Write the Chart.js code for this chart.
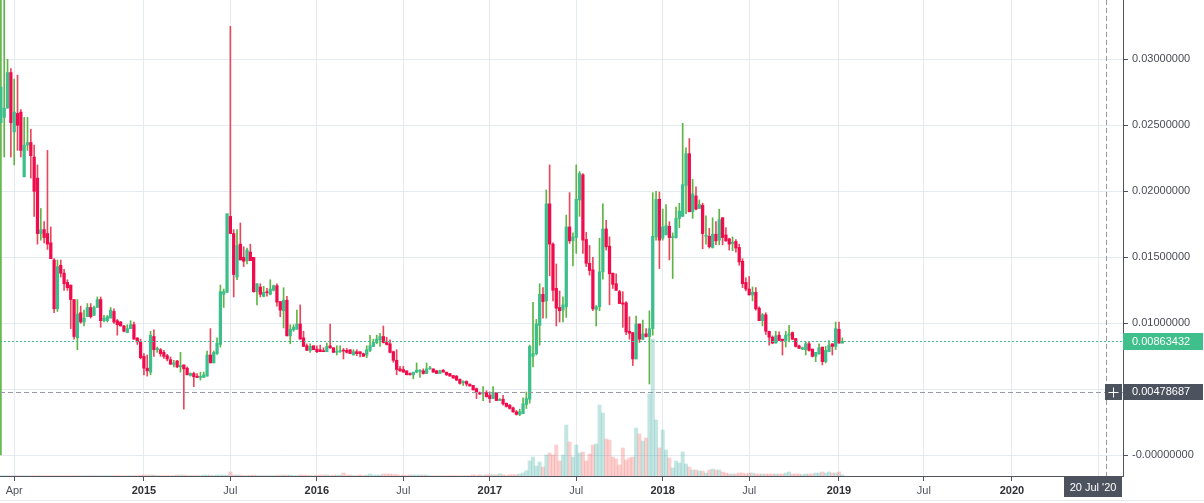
<!DOCTYPE html>
<html>
<head>
<meta charset="utf-8">
<title>Weekly candles</title>
<script src="https://cdn.jsdelivr.net/npm/chart.js@4.4.0/dist/chart.umd.min.js"></script>
<style>
    html, body { margin: 0; padding: 0; background: #ffffff; }
    #wrap { width: 1204px; height: 503px; position: relative; }
</style>
</head>
<body>
<div id="wrap"><canvas id="chart" width="1204" height="503"></canvas></div>
<script>
// Weekly candles, index 0 = first week of March 2014, last = first week of 2019
const opens = [
    0.0252, 0.0256, 0.0263, 0.029, 0.0245, 0.0259, 0.026, 0.0211, 0.0235, 0.0237,
    0.0226, 0.021, 0.0168, 0.0171, 0.0168, 0.0161, 0.0148, 0.0111, 0.0144, 0.0138,
    0.0131, 0.0129, 0.0118, 0.0089, 0.0108, 0.0101, 0.0105, 0.0112, 0.0106, 0.0112,
    0.0118, 0.0102, 0.0102, 0.0104, 0.0109, 0.0102, 0.0101, 0.0098, 0.0093, 0.0096,
    0.0099, 0.0089, 0.0086, 0.0075, 0.0066, 0.0063, 0.009, 0.008, 0.008, 0.0078,
    0.00755, 0.00725, 0.0069, 0.00715, 0.0067, 0.00685, 0.0066, 0.00605, 0.0062, 0.006,
    0.0059, 0.0059, 0.006, 0.0076, 0.007, 0.0077, 0.0084, 0.0122, 0.01235, 0.0181,
    0.0168, 0.0135, 0.016, 0.015, 0.01475, 0.0154, 0.015, 0.0124, 0.01275, 0.01205,
    0.01236, 0.0122, 0.0125, 0.01285, 0.01165, 0.01095, 0.01175, 0.00905, 0.0095, 0.00955,
    0.00995, 0.0089, 0.0083, 0.00795, 0.0083, 0.00805, 0.008, 0.0079, 0.00785, 0.0083,
    0.00815, 0.0078, 0.00785, 0.00795, 0.00795, 0.008, 0.0076, 0.00785, 0.00785, 0.0077,
    0.0076, 0.00795, 0.00825, 0.00855, 0.00875, 0.009, 0.00855, 0.00845, 0.00785, 0.0072,
    0.00655, 0.0065, 0.0064, 0.0062, 0.0061, 0.0063, 0.00635, 0.0064, 0.0062, 0.00655,
    0.00655, 0.0064, 0.0062, 0.00645, 0.0063, 0.0062, 0.00605, 0.006, 0.00575, 0.0055,
    0.0056, 0.0054, 0.0053, 0.00505, 0.00475, 0.0047, 0.00475, 0.00455, 0.0043, 0.00475,
    0.00415, 0.00425, 0.00395, 0.0038, 0.0036, 0.0033, 0.0031, 0.00315, 0.00385, 0.00425,
    0.0075, 0.0077, 0.00985, 0.0122, 0.0117, 0.01905, 0.016, 0.01265, 0.0112, 0.011,
    0.01125, 0.0173, 0.01625, 0.0165, 0.01935, 0.02125, 0.01635, 0.01455, 0.01405, 0.01105,
    0.01125, 0.0139, 0.01715, 0.01585, 0.0138, 0.013, 0.0124, 0.01155, 0.01155, 0.0094,
    0.0093, 0.0073, 0.00995, 0.0088, 0.0092, 0.009, 0.0096, 0.01655, 0.0194, 0.01645,
    0.0167, 0.01735, 0.0165, 0.0165, 0.01795, 0.0181, 0.02045, 0.02285, 0.01845, 0.01965,
    0.0187, 0.01895, 0.0166, 0.0166, 0.01575, 0.01675, 0.0163, 0.018, 0.0167, 0.0164,
    0.01605, 0.0162, 0.01575, 0.0147, 0.0131, 0.0126, 0.01215, 0.01235, 0.01115, 0.0102,
    0.01065, 0.0094, 0.00895, 0.0085, 0.0091, 0.0088, 0.0087, 0.0091, 0.0093, 0.00885,
    0.0083, 0.00805, 0.008, 0.00845, 0.00805, 0.0075, 0.0077, 0.0082, 0.0071, 0.00785,
    0.00845, 0.00825, 0.00955, 0.0085
];
const highs = [
    0.045, 0.036, 0.03, 0.0293, 0.0285, 0.0288, 0.0262, 0.0256, 0.0256, 0.0247,
    0.0235, 0.022, 0.0187, 0.0177, 0.0231, 0.0173, 0.0149, 0.0148, 0.0148, 0.0141,
    0.0133, 0.0129, 0.0118, 0.0118, 0.0113, 0.011, 0.0115, 0.0115, 0.0113, 0.012,
    0.012, 0.0106, 0.0106, 0.0112, 0.0111, 0.0103, 0.01015, 0.00985, 0.0099, 0.0102,
    0.0101, 0.0089, 0.0088, 0.0077, 0.0076, 0.0094, 0.0095, 0.0082, 0.0081, 0.00795,
    0.00765, 0.00745, 0.0072, 0.0072, 0.0078, 0.00685, 0.0067, 0.00625, 0.0063, 0.0062,
    0.0063, 0.0063, 0.0079, 0.0096, 0.0079, 0.0089, 0.0129, 0.0126, 0.0183, 0.0325,
    0.0171, 0.0171, 0.0176, 0.0158, 0.0157, 0.016, 0.015, 0.013, 0.013, 0.0128,
    0.01265, 0.0133, 0.0129, 0.013, 0.01165, 0.0127, 0.01205, 0.0099, 0.0099, 0.011,
    0.0114, 0.0094, 0.00845, 0.00845, 0.0083, 0.0083, 0.00835, 0.00815, 0.0085, 0.00995,
    0.00815, 0.0083, 0.0083, 0.0081, 0.0081, 0.008, 0.008, 0.008, 0.00785, 0.00775,
    0.0083, 0.0091, 0.0088, 0.0091, 0.00925, 0.0098, 0.00895, 0.00875, 0.0079, 0.008,
    0.00675, 0.00675, 0.0064, 0.00625, 0.0063, 0.007, 0.0065, 0.00655, 0.007, 0.00675,
    0.00655, 0.00645, 0.00645, 0.0065, 0.0063, 0.0062, 0.00605, 0.00605, 0.0058, 0.00565,
    0.00565, 0.0054, 0.0053, 0.0051, 0.0048, 0.0052, 0.0049, 0.0048, 0.0052, 0.00475,
    0.0043, 0.00455, 0.00395, 0.00385, 0.00365, 0.0034, 0.0035, 0.00435, 0.0048, 0.00835,
    0.0116, 0.0103, 0.013, 0.0127, 0.0201, 0.022, 0.0161, 0.0145, 0.01245, 0.012,
    0.0182, 0.0199, 0.01685, 0.022, 0.0215, 0.02135, 0.0169, 0.0159, 0.015, 0.01135,
    0.01645, 0.01905, 0.0178, 0.01655, 0.0138, 0.01375, 0.0125, 0.0124, 0.01165, 0.0105,
    0.0093, 0.01055, 0.00995, 0.01025, 0.0096, 0.01095, 0.0199, 0.02, 0.01995, 0.01865,
    0.019, 0.0177, 0.01685, 0.0188, 0.0191, 0.02515, 0.0233, 0.024, 0.0209, 0.02035,
    0.01935, 0.0191, 0.01815, 0.0172, 0.018, 0.0177, 0.01865, 0.018, 0.01725, 0.01645,
    0.01655, 0.01635, 0.016, 0.0149, 0.01345, 0.01355, 0.01275, 0.0127, 0.01125, 0.01075,
    0.0108, 0.0094, 0.00905, 0.0094, 0.00935, 0.0088, 0.0094, 0.00985, 0.00935, 0.00885,
    0.00835, 0.0082, 0.0086, 0.0086, 0.00805, 0.0078, 0.00845, 0.0082, 0.00825, 0.0087,
    0.00845, 0.0101, 0.0101, 0.0089
];
const lows = [
    0, 0.0226, 0.0263, 0.0226, 0.022, 0.0231, 0.0226, 0.0211, 0.0231, 0.021,
    0.0181, 0.016, 0.0163, 0.0161, 0.0156, 0.0149, 0.0108, 0.0109, 0.0135, 0.0125,
    0.0125, 0.0096, 0.0088, 0.008, 0.01, 0.0098, 0.0105, 0.0104, 0.0106, 0.0112,
    0.0097, 0.0101, 0.0101, 0.0104, 0.01, 0.0091, 0.0098, 0.00935, 0.0093, 0.0096,
    0.0088, 0.0084, 0.0073, 0.0061, 0.006, 0.0061, 0.0075, 0.0078, 0.0075, 0.00735,
    0.00715, 0.0069, 0.0067, 0.00665, 0.0063, 0.0035, 0.0061, 0.006, 0.0052, 0.00588,
    0.0057, 0.0059, 0.006, 0.007, 0.007, 0.00765, 0.0082, 0.0112, 0.01235, 0.0168,
    0.012, 0.0133, 0.0148, 0.0143, 0.0145, 0.01475, 0.01235, 0.0114, 0.012, 0.012,
    0.01205, 0.01215, 0.01245, 0.0113, 0.0105, 0.00965, 0.00905, 0.00845, 0.0094, 0.00955,
    0.0088, 0.00825, 0.00795, 0.0078, 0.008, 0.00778, 0.00785, 0.00785, 0.00785, 0.0081,
    0.0078, 0.0076, 0.0078, 0.0073, 0.00775, 0.0077, 0.0076, 0.00755, 0.00745, 0.0075,
    0.0074, 0.00785, 0.00825, 0.00845, 0.00825, 0.0085, 0.00835, 0.00775, 0.00705, 0.0061,
    0.00635, 0.0063, 0.0061, 0.0061, 0.0058, 0.00625, 0.0059, 0.00615, 0.0062, 0.0065,
    0.0063, 0.0062, 0.0062, 0.0063, 0.00605, 0.006, 0.00585, 0.00565, 0.0054, 0.0053,
    0.00525, 0.00525, 0.00495, 0.0043, 0.0046, 0.00415, 0.0044, 0.004, 0.0043, 0.00415,
    0.00415, 0.0038, 0.00365, 0.0035, 0.00325, 0.00305, 0.003, 0.00315, 0.00355, 0.00395,
    0.0067, 0.0076, 0.00835, 0.0104, 0.0104, 0.0136, 0.0117, 0.0098, 0.0101, 0.0101,
    0.01045, 0.01605, 0.01435, 0.0153, 0.0181, 0.0153, 0.0143, 0.01365, 0.01095, 0.0098,
    0.01095, 0.01335, 0.01555, 0.0114, 0.01265, 0.0125, 0.0115, 0.0097, 0.00915, 0.0088,
    0.0068, 0.0073, 0.00855, 0.00875, 0.00895, 0.0054, 0.0091, 0.0163, 0.01415, 0.0163,
    0.0167, 0.0148, 0.0134, 0.01645, 0.01725, 0.0181, 0.0183, 0.01845, 0.01795, 0.0186,
    0.0187, 0.01565, 0.016, 0.0157, 0.0157, 0.01595, 0.01595, 0.01595, 0.0162, 0.01555,
    0.0155, 0.0154, 0.0144, 0.0127, 0.01245, 0.01215, 0.0117, 0.011, 0.0102, 0.0098,
    0.00915, 0.00835, 0.00845, 0.0085, 0.0087, 0.0076, 0.0082, 0.0086, 0.00875, 0.0082,
    0.0081, 0.008, 0.0076, 0.0079, 0.00745, 0.0071, 0.00765, 0.00685, 0.007, 0.00785,
    0.0076, 0.008, 0.0085, 0.0085
];
const closes = [
    0.0279, 0.0263, 0.029, 0.0252, 0.026, 0.025, 0.0231, 0.0235, 0.0237, 0.0227,
    0.02, 0.0168, 0.0171, 0.0165, 0.016, 0.0149, 0.0111, 0.0143, 0.0138, 0.013,
    0.0127, 0.0118, 0.009, 0.0107, 0.0101, 0.0104, 0.0112, 0.0105, 0.0112, 0.0118,
    0.0102, 0.0104, 0.0105, 0.011, 0.0101, 0.0099, 0.0098, 0.0094, 0.0096, 0.0099,
    0.0088, 0.0086, 0.0074, 0.0066, 0.0064, 0.0091, 0.008, 0.0081, 0.0077, 0.0075,
    0.0073, 0.0069, 0.007, 0.0067, 0.0068, 0.00655, 0.0061, 0.0062, 0.00595, 0.0059,
    0.00595, 0.0061, 0.0076, 0.007, 0.0078, 0.0085, 0.0124, 0.0124, 0.0183, 0.0168,
    0.0137, 0.0159, 0.0148, 0.0147, 0.01555, 0.01475, 0.0124, 0.013, 0.0122, 0.01235,
    0.01232, 0.0126, 0.01285, 0.0116, 0.011, 0.01175, 0.00905, 0.00955, 0.0097, 0.00995,
    0.0088, 0.00825, 0.00795, 0.00825, 0.008, 0.00785, 0.00785, 0.00785, 0.00825, 0.00815,
    0.0078, 0.0079, 0.0079, 0.0079, 0.0078, 0.0077, 0.00785, 0.0077, 0.0077, 0.0075,
    0.008, 0.0083, 0.00855, 0.0088, 0.009, 0.00855, 0.0084, 0.0078, 0.0072, 0.0065,
    0.0064, 0.0063, 0.0061, 0.0061, 0.0063, 0.00645, 0.00645, 0.0062, 0.00655, 0.0066,
    0.0063, 0.0062, 0.0064, 0.0063, 0.0061, 0.006, 0.00585, 0.0057, 0.00545, 0.0056,
    0.0054, 0.00525, 0.00495, 0.0048, 0.00465, 0.00475, 0.00445, 0.0043, 0.00475, 0.00415,
    0.00425, 0.0039, 0.0037, 0.00355, 0.0033, 0.0031, 0.0033, 0.0039, 0.0043, 0.00825,
    0.0077, 0.00995, 0.0122, 0.01165, 0.01905, 0.016, 0.0125, 0.01115, 0.01095, 0.0114,
    0.0173, 0.01625, 0.01655, 0.0194, 0.02135, 0.0163, 0.01455, 0.014, 0.0111, 0.01125,
    0.0139, 0.01715, 0.0158, 0.01375, 0.01295, 0.0125, 0.0115, 0.01145, 0.00935, 0.00925,
    0.0073, 0.00995, 0.0088, 0.0092, 0.009, 0.0096, 0.0166, 0.0194, 0.0163, 0.0173,
    0.0174, 0.0165, 0.01655, 0.01795, 0.0185, 0.0205, 0.02285, 0.01845, 0.0198, 0.01865,
    0.019, 0.0168, 0.01665, 0.0158, 0.01675, 0.01625, 0.01785, 0.0165, 0.01625, 0.016,
    0.01615, 0.0157, 0.01465, 0.013, 0.0126, 0.01215, 0.01235, 0.0111, 0.0102, 0.01065,
    0.0094, 0.00895, 0.0085, 0.00905, 0.0087, 0.0087, 0.0091, 0.0092, 0.0088, 0.00825,
    0.0081, 0.00815, 0.00845, 0.00795, 0.0075, 0.0078, 0.00815, 0.0071, 0.00795, 0.00835,
    0.00825, 0.0096, 0.0085, 0.00863432
];
// volume, relative units
const volumes = [
    0.3, 0.3, 0.3, 0.3, 0.3, 0.3, 0.3, 0.3, 0.3, 0.3,
    0.3, 0.3, 0.3, 0.3, 0.3, 0.3, 0.3, 0.3, 0.3, 0.3,
    0.3, 0.3, 0.3, 0.3, 0.3, 0.3, 0.3, 0.3, 0.3, 0.3,
    0.3, 0.3, 0.3, 0.3, 0.3, 0.3, 0.3, 0.3, 0.3, 0.3,
    0.3, 0.3, 0.8, 1, 1, 1, 1, 0.5, 0.5, 0.5,
    0.5, 0.5, 0.5, 1, 1, 1, 0.5, 0.5, 0.5, 0.5,
    0.5, 1, 1, 1, 0.5, 1, 1, 1, 1, 4,
    1, 1, 1, 0.5, 0.5, 0.8, 1, 0.5, 0.5, 0.5,
    0.5, 0.5, 0.5, 0.5, 0.8, 1, 1, 1, 0.5, 0.5,
    1, 1, 1, 0.5, 0.5, 0.5, 1, 1, 1, 0.5,
    1, 1, 1, 3, 1, 1, 0.5, 0.5, 1, 0.5,
    1, 2, 1, 1, 1, 2, 2, 2, 1.5, 1.5,
    0.5, 1, 0.5, 1, 1, 1, 1, 1, 1, 0.3,
    0.3, 0.3, 0.3, 0.3, 0.3, 0.3, 0.3, 0.3, 0.3, 0.3,
    0.3, 0.3, 1.3, 0.5, 1.3, 0.5, 1.3, 1.3, 1.3, 1.3,
    2.3, 1.3, 0.5, 1.3, 1.3, 1.3, 2, 3, 5.3, 15,
    19, 10, 14, 9, 21, 23, 21, 31, 15, 21,
    51, 34, 19, 31, 23, 24, 15, 22, 31, 32,
    71, 63, 37, 36, 19, 17, 11, 28, 16, 18,
    19, 48, 42, 35, 38, 82, 137, 56, 28, 46,
    26, 18, 8, 15, 13, 24, 12, 9, 6, 6,
    5, 5, 3, 6, 7, 6, 6, 4, 3, 2,
    2, 2, 3, 3, 2, 3, 3, 2, 2, 2,
    2, 2, 2, 2, 2, 2, 3, 4, 2, 2,
    2, 1.3, 2, 2, 2, 3, 3, 4, 3, 4,
    3, 3, 4, 1.3
];

// time axis, in weeks from the first candle
const xTickPos = [4, 43, 69, 95, 121, 147, 173, 199, 225, 252, 277.5, 304, 330];
const xTickLabels = ['Apr', '2015', 'Jul', '2016', 'Jul', '2017', 'Jul', '2018', 'Jul', '2019', 'Jul', '2020', 'Jul'];
const yTickValues = [0, 0.005, 0.01, 0.015, 0.02, 0.025, 0.03];

// crosshair position
const crosshairWeek = 332.2;
const crosshairDate = "20 Jul '20";
const crosshairPrice = 0.00478687;

[opens, highs, lows, volumes].forEach(a => {
    if (a.length !== closes.length) throw new Error('length mismatch ' + a.length + ' vs ' + closes.length);
});

const FONT = "'Liberation Sans', Arial, sans-serif";
const UP_BODY = '#3dbf8c';
const UP_WICK = '#5db545';
const DOWN_BODY = '#f10a4c';
const DOWN_WICK = '#e8485c';
const VOL_UP = 'rgba(38, 166, 154, 0.28)';
const VOL_DOWN = 'rgba(239, 83, 80, 0.28)';
const GRID = '#e3ebf1';
const AXIS = '#50535e';
const LABEL_BG = '#4c525e';
const LAST_COLOR = '#3fbf8b';

const isUp = i => closes[i] >= opens[i];

// overlay: last price line, crosshair, value labels
const overlayPlugin = {
    id: 'overlay',
    afterDatasetsDraw(chart) {
        const { ctx, chartArea, scales } = chart;
        const last = closes.length - 1;
        const yLast = Math.round(scales.y.getPixelForValue(closes[last])) + 0.5;
        const yCross = Math.round(scales.y.getPixelForValue(crosshairPrice)) + 0.5;
        const xCross = Math.round(scales.x.getPixelForValue(crosshairWeek)) + 0.5;

        ctx.save();
        ctx.lineWidth = 1;
        ctx.strokeStyle = LAST_COLOR;
        ctx.setLineDash([2, 2]);
        ctx.beginPath();
        ctx.moveTo(chartArea.left, yLast);
        ctx.lineTo(chartArea.right, yLast);
        ctx.stroke();

        ctx.strokeStyle = '#9598a1';
        ctx.setLineDash([5, 3]);
        ctx.beginPath();
        ctx.moveTo(chartArea.left, yCross);
        ctx.lineTo(chartArea.right, yCross);
        ctx.moveTo(xCross, chartArea.top);
        ctx.lineTo(xCross, chartArea.bottom);
        ctx.stroke();
        ctx.restore();
    },
    afterDraw(chart) {
        const { ctx, chartArea, scales } = chart;
        const last = closes.length - 1;
        const right = chartArea.right;
        const yLast = scales.y.getPixelForValue(closes[last]);
        const yCross = scales.y.getPixelForValue(crosshairPrice);
        const xCross = scales.x.getPixelForValue(crosshairWeek);

        ctx.save();
        ctx.font = '11px ' + FONT;
        ctx.textBaseline = 'middle';
        ctx.textAlign = 'left';

        // last price tag
        ctx.fillStyle = LAST_COLOR;
        ctx.fillRect(right, Math.round(yLast) - 8, 80, 17);
        ctx.fillStyle = '#ffffff';
        ctx.fillText(closes[last].toFixed(8), right + 9, Math.round(yLast) + 0.5);

        // crosshair price tag and plus button
        ctx.fillStyle = LABEL_BG;
        ctx.fillRect(right, Math.round(yCross) - 8, 80, 16);
        ctx.fillRect(right - 18, Math.round(yCross) - 8, 17, 16);
        ctx.fillStyle = '#ffffff';
        ctx.fillText(crosshairPrice.toFixed(8), right + 9, Math.round(yCross));
        ctx.strokeStyle = '#ffffff';
        ctx.lineWidth = 1;
        const px = right - 9.5, py = Math.round(yCross) + 0.5;
        ctx.beginPath();
        ctx.moveTo(px - 5, py);
        ctx.lineTo(px + 5, py);
        ctx.moveTo(px, py - 5);
        ctx.lineTo(px, py + 5);
        ctx.stroke();

        // crosshair date tag
        const boxW = 58;
        const boxX = Math.min(xCross - boxW / 2, right - boxW - 1);
        ctx.fillStyle = LABEL_BG;
        ctx.fillRect(boxX, chartArea.bottom + 1, boxW, 20);
        ctx.fillStyle = '#ffffff';
        ctx.textAlign = 'center';
        ctx.fillText(crosshairDate, boxX + boxW / 2, chartArea.bottom + 11.5);

        // thin strip at the bottom of the pane
        ctx.fillStyle = '#e6e9ee';
        ctx.fillRect(0, 500, chart.width, 1);
        ctx.restore();
    }
};

const ctx = document.getElementById('chart');
new Chart(ctx, {
    type: 'bar',
    data: {
        datasets: [
            {
                label: 'Body',
                order: 1,
                grouped: false,
                data: opens.map((o, i) => ({ x: i, y: [o, closes[i]] })),
                backgroundColor: opens.map((o, i) => isUp(i) ? UP_BODY : DOWN_BODY),
                barThickness: 2.6,
                minBarLength: 1
            },
            {
                label: 'Wick',
                order: 2,
                grouped: false,
                data: highs.map((h, i) => ({ x: i, y: [lows[i], h] })),
                backgroundColor: highs.map((h, i) => isUp(i) ? UP_WICK : DOWN_WICK),
                barThickness: 1,
                minBarLength: 1
            },
            {
                label: 'Volume',
                order: 3,
                grouped: false,
                yAxisID: 'yVol',
                data: volumes.map((v, i) => ({ x: i, y: v })),
                backgroundColor: volumes.map((v, i) => isUp(i) ? VOL_UP : VOL_DOWN),
                barThickness: 3.33
            }
        ]
    },
    options: {
        responsive: false,
        animation: false,
        devicePixelRatio: 1,
        layout: { padding: 0 },
        plugins: {
            legend: { display: false },
            tooltip: { enabled: false }
        },
        scales: {
            x: {
                type: 'linear',
                min: -0.27,
                max: 337.4,
                offset: false,
                grid: { color: GRID, tickColor: AXIS, tickLength: 5, offset: false },
                border: { color: AXIS },
                afterBuildTicks: scale => { scale.ticks = xTickPos.map(v => ({ value: v })); },
                afterFit: scale => {
                    scale.height = 27;
                    scale.paddingLeft = 0;
                    scale.paddingRight = 0;
                },
                ticks: {
                    autoSkip: false,
                    maxRotation: 0,
                    padding: 3,
                    callback: (value, index) => xTickLabels[index],
                    font: c => ({
                        family: FONT,
                        size: 11,
                        weight: /^\d{4}$/.test(xTickLabels[c.index]) ? 'bold' : 'normal'
                    }),
                    color: c => /^\d{4}$/.test(xTickLabels[c.index]) ? '#2f3035' : '#50535e'
                }
            },
            y: {
                type: 'linear',
                position: 'right',
                min: -0.001566,
                max: 0.034495,
                grid: { color: GRID, tickColor: AXIS, tickLength: 5 },
                border: { color: AXIS },
                afterBuildTicks: scale => { scale.ticks = yTickValues.map(v => ({ value: v })); },
                afterFit: scale => {
                    scale.width = 81;
                    scale.paddingTop = 0;
                    scale.paddingBottom = 0;
                },
                ticks: {
                    padding: 4,
                    color: '#4a4c55',
                    font: { family: FONT, size: 11 },
                    callback: value => value === 0 ? '-0.00000000' : value.toFixed(8)
                }
            },
            yVol: {
                type: 'linear',
                display: false,
                min: 0,
                max: 476
            }
        }
    },
    plugins: [overlayPlugin]
});
</script>
</body>
</html>
